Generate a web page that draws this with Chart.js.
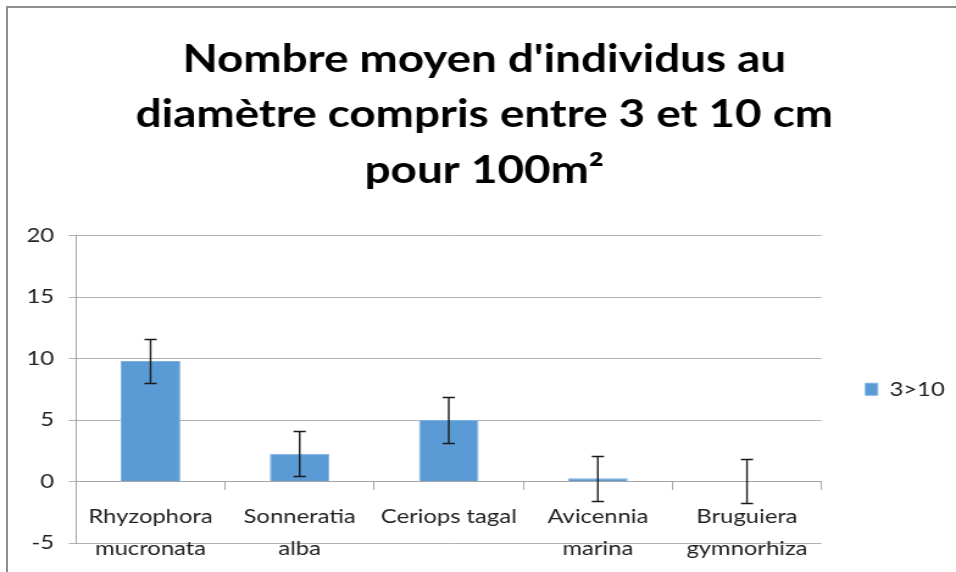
<!DOCTYPE html>
<html lang="fr">
<head>
<meta charset="utf-8">
<title>Nombre moyen d'individus</title>
<script src="https://cdn.jsdelivr.net/npm/chart.js@4.4.1/dist/chart.umd.min.js"></script>
<style>
  html, body { margin: 0; padding: 0; background: #fff; }
  #wrap { position: relative; width: 956px; height: 572px; overflow: hidden; }
  /* the source picture is stretched sideways, so the chart is drawn narrow and widened */
  #stretch { position: absolute; left: 0; top: 0; width: 784px; height: 572px;
             transform: scaleX(1.2194); transform-origin: 0 0; }
  #frame {
    position: absolute; left: 6px; top: 6px; width: 980px; height: 600px;
    border-left: 2px solid #8e8e8e; border-top: 2px solid #8e8e8e;
    pointer-events: none;
  }
</style>
</head>
<body>
<div id="wrap">
  <div id="stretch"><canvas id="chart" width="784" height="572"></canvas></div>
  <div id="frame"></div>
</div>
<script>
/* Nombre moyen d'individus (3 à 10 cm) — bar chart with error bars */

const titleLines = ["Nombre moyen d'individus au", 'diamètre compris entre 3 et 10 cm', 'pour 100m²'];
const species    = [
  ['Rhyzophora', 'mucronata'],
  ['Sonneratia', 'alba'],
  ['Ceriops tagal'],
  ['Avicennia', 'marina'],
  ['Bruguiera', 'gymnorhiza'],
];
const seriesName = '3>10';
const means      = [9.8, 2.25, 5.0, 0.27, 0.03];
const errors     = [1.82, 1.84, 1.85, 1.83, 1.77];
const yTicks     = [-5, 0, 5, 10, 15, 20];

const FONT = 'Lato, "Open Sans", sans-serif';

// Draw the +/- error bars on top of each bar, using the y scale
const errorBars = {
  id: 'errorBars',
  afterDatasetsDraw(chart) {
    const ctx  = chart.ctx;
    const yS   = chart.scales.y;
    const meta = chart.getDatasetMeta(0);
    ctx.save();
    ctx.strokeStyle = '#1a1a1a';
    ctx.lineWidth   = 1.4;
    meta.data.forEach((bar, i) => {
      const x    = bar.x;
      const yTop = Math.round(yS.getPixelForValue(means[i] + errors[i])) + 0.5;
      const yBot = Math.round(yS.getPixelForValue(means[i] - errors[i])) + 0.5;
      ctx.beginPath();
      ctx.moveTo(x, yTop);     ctx.lineTo(x, yBot);
      ctx.moveTo(x - 5, yTop); ctx.lineTo(x + 5, yTop);
      ctx.moveTo(x - 5, yBot); ctx.lineTo(x + 5, yBot);
      ctx.stroke();
    });
    ctx.restore();
  },
};

new Chart(document.getElementById('chart'), {
  type: 'bar',
  data: {
    labels: species,
    datasets: [{
      label:           seriesName,
      data:            means,
      backgroundColor: '#5b9bd5',
      borderColor:     '#7eb1e0',
      borderWidth:     1,
      barPercentage:   0.4,
      categoryPercentage: 1,
    }],
  },
  options: {
    responsive: false,
    animation:  false,
    layout: { padding: { left: 9.7, right: -0.7, top: 32, bottom: 29 } },
    plugins: {
      title: {
        display: true,
        text:    titleLines,
        color:   '#000',
        font:    { family: FONT, size: 37.5, weight: 'bold', lineHeight: 1.48 },
        padding: { top: 0, bottom: 37 },
      },
      legend: {
        position: 'right',
        fullSize: false,
        labels: {
          color:      '#222',
          font:       { family: FONT, size: 19.5 },
          boxWidth:   10,
          boxHeight:  12,
          padding:    36,
        },
      },
      tooltip: { enabled: false },
    },
    scales: {
      x: {
        position: { y: 0 },
        offset:   true,
        grid: {
          offset:          true,
          drawOnChartArea: false,
          tickLength:      8,
          color:           '#a6a6a6',
        },
        border: { color: '#a6a6a6' },
        ticks: {
          color:   '#222',
          font:    { family: FONT, size: 19.5, lineHeight: 1.6 },
          padding: 12,
          maxRotation: 0,
        },
      },
      y: {
        min: yTicks[0],
        max: yTicks[yTicks.length - 1],
        afterBuildTicks: scale => { scale.ticks = yTicks.map(v => ({ value: v })); },
        grid:   { color: '#b3b3b3', tickLength: 6 },
        border: { color: '#a6a6a6' },
        ticks: {
          color:   '#222',
          font:    { family: FONT, size: 19.5 },
          padding: 12,
        },
      },
    },
  },
  plugins: [errorBars],
});
</script>
</body>
</html>
